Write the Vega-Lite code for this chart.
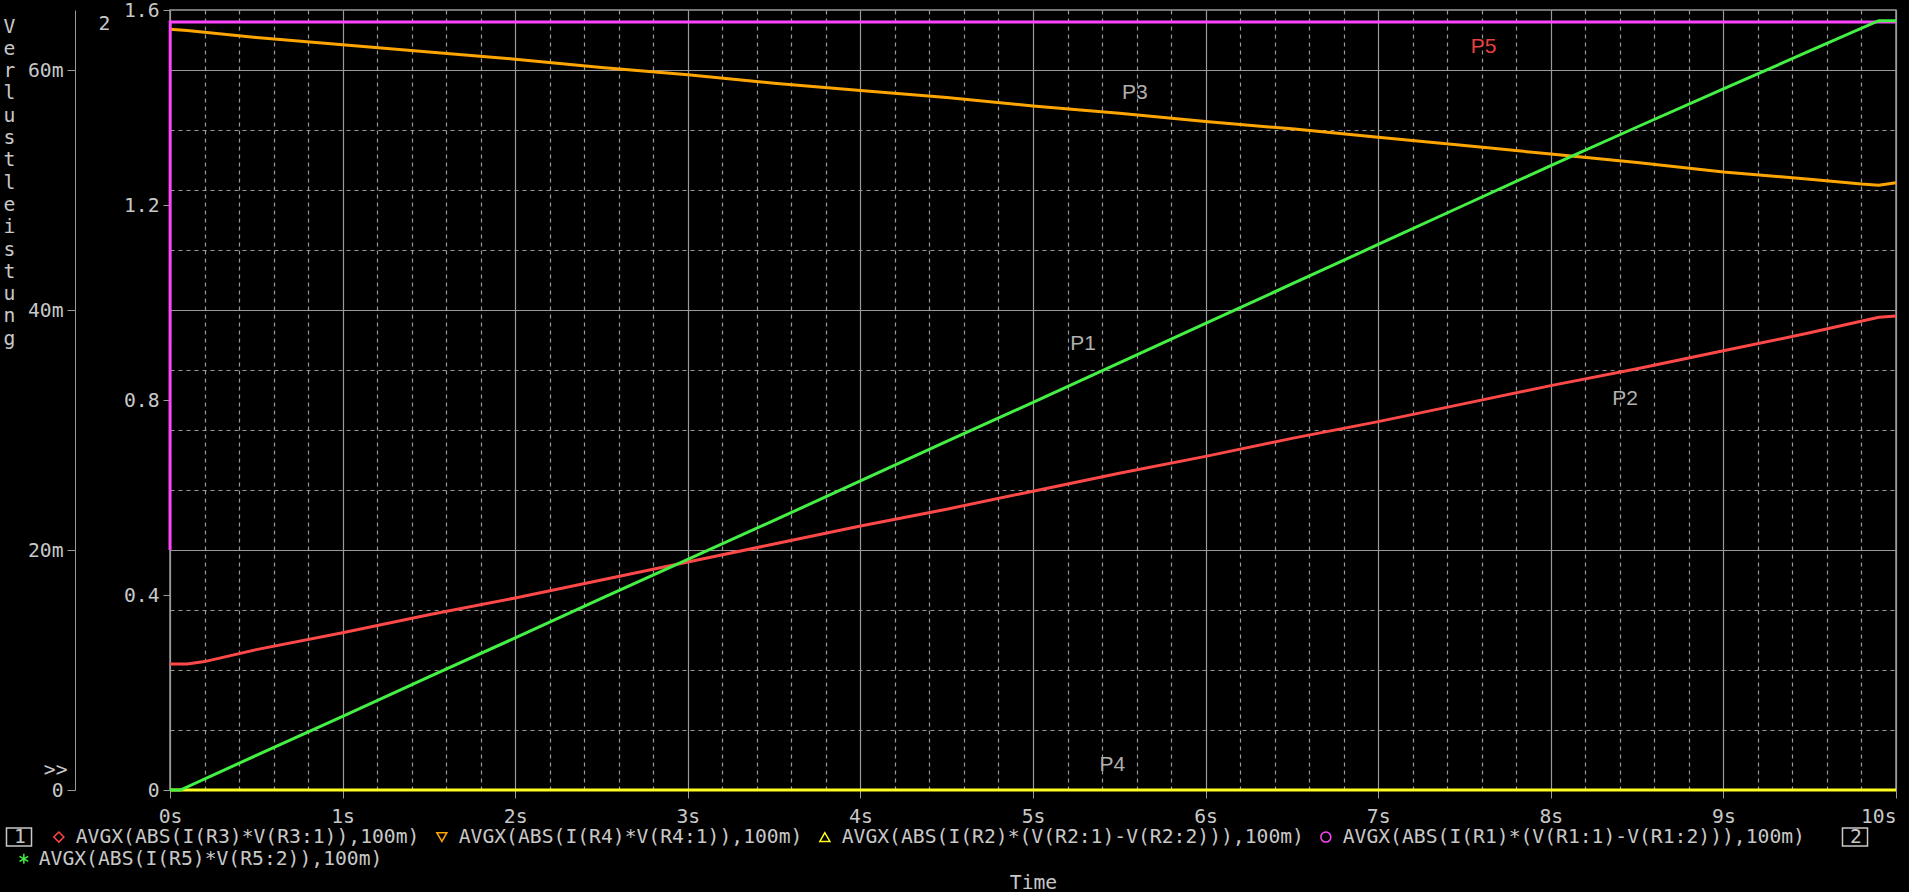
{
  "$schema": "https://vega.github.io/schema/vega-lite/v6.json",
  "autosize": {"type": "none"},
  "padding": {"left": 170, "top": 10, "right": 13, "bottom": 102},
  "width": 1726,
  "height": 780,
  "background": "black",
  "config": {
    "view": {"stroke": "#9a9a9a", "strokeWidth": 1.5},
    "axis": {
      "labelFont": "DejaVu Sans Mono", "labelFontSize": 19.7, "labelColor": "#c8c8c8",
      "titleFont": "DejaVu Sans Mono", "titleFontSize": 19.7, "titleColor": "#c8c8c8", "titleFontWeight": "normal",
      "domainColor": "#9a9a9a", "tickColor": "#9a9a9a", "gridColor": "#9a9a9a", "gridWidth": 1.2,
      "labelOverlap": false, "labelFlush": false
    },
    "legend": {
      "labelFont": "DejaVu Sans Mono", "labelFontSize": 19.7, "labelColor": "#c8c8c8", "labelLimit": 1000,
      "padding": 0, "orient": "none", "direction": "horizontal", "title": null
    }
  },
  "datasets": {
    "axis1": [
      {"t": 0, "w": 0.0105, "s": "AVGX(ABS(I(R3)*V(R3:1)),100m)"},
      {"t": 0.1, "w": 0.0105, "s": "AVGX(ABS(I(R3)*V(R3:1)),100m)"},
      {"t": 0.2, "w": 0.0107, "s": "AVGX(ABS(I(R3)*V(R3:1)),100m)"},
      {"t": 0.5, "w": 0.0117, "s": "AVGX(ABS(I(R3)*V(R3:1)),100m)"},
      {"t": 1, "w": 0.0131, "s": "AVGX(ABS(I(R3)*V(R3:1)),100m)"},
      {"t": 1.5, "w": 0.0146, "s": "AVGX(ABS(I(R3)*V(R3:1)),100m)"},
      {"t": 2, "w": 0.016, "s": "AVGX(ABS(I(R3)*V(R3:1)),100m)"},
      {"t": 2.5, "w": 0.0175, "s": "AVGX(ABS(I(R3)*V(R3:1)),100m)"},
      {"t": 3, "w": 0.019, "s": "AVGX(ABS(I(R3)*V(R3:1)),100m)"},
      {"t": 3.5, "w": 0.0205, "s": "AVGX(ABS(I(R3)*V(R3:1)),100m)"},
      {"t": 4, "w": 0.022, "s": "AVGX(ABS(I(R3)*V(R3:1)),100m)"},
      {"t": 4.5, "w": 0.0234, "s": "AVGX(ABS(I(R3)*V(R3:1)),100m)"},
      {"t": 5, "w": 0.0249, "s": "AVGX(ABS(I(R3)*V(R3:1)),100m)"},
      {"t": 5.5, "w": 0.0264, "s": "AVGX(ABS(I(R3)*V(R3:1)),100m)"},
      {"t": 6, "w": 0.0278, "s": "AVGX(ABS(I(R3)*V(R3:1)),100m)"},
      {"t": 6.5, "w": 0.0293, "s": "AVGX(ABS(I(R3)*V(R3:1)),100m)"},
      {"t": 7, "w": 0.0307, "s": "AVGX(ABS(I(R3)*V(R3:1)),100m)"},
      {"t": 7.5, "w": 0.0322, "s": "AVGX(ABS(I(R3)*V(R3:1)),100m)"},
      {"t": 8, "w": 0.0337, "s": "AVGX(ABS(I(R3)*V(R3:1)),100m)"},
      {"t": 8.5, "w": 0.0351, "s": "AVGX(ABS(I(R3)*V(R3:1)),100m)"},
      {"t": 9, "w": 0.0366, "s": "AVGX(ABS(I(R3)*V(R3:1)),100m)"},
      {"t": 9.5, "w": 0.0381, "s": "AVGX(ABS(I(R3)*V(R3:1)),100m)"},
      {"t": 9.9, "w": 0.0394, "s": "AVGX(ABS(I(R3)*V(R3:1)),100m)"},
      {"t": 10, "w": 0.0395, "s": "AVGX(ABS(I(R3)*V(R3:1)),100m)"},
      {"t": 0, "w": 0.0634, "s": "AVGX(ABS(I(R4)*V(R4:1)),100m)"},
      {"t": 0.1, "w": 0.0633, "s": "AVGX(ABS(I(R4)*V(R4:1)),100m)"},
      {"t": 0.5, "w": 0.0627, "s": "AVGX(ABS(I(R4)*V(R4:1)),100m)"},
      {"t": 1, "w": 0.0621, "s": "AVGX(ABS(I(R4)*V(R4:1)),100m)"},
      {"t": 1.5, "w": 0.0615, "s": "AVGX(ABS(I(R4)*V(R4:1)),100m)"},
      {"t": 2, "w": 0.0609, "s": "AVGX(ABS(I(R4)*V(R4:1)),100m)"},
      {"t": 2.5, "w": 0.0602, "s": "AVGX(ABS(I(R4)*V(R4:1)),100m)"},
      {"t": 3, "w": 0.0596, "s": "AVGX(ABS(I(R4)*V(R4:1)),100m)"},
      {"t": 3.5, "w": 0.0589, "s": "AVGX(ABS(I(R4)*V(R4:1)),100m)"},
      {"t": 4, "w": 0.0583, "s": "AVGX(ABS(I(R4)*V(R4:1)),100m)"},
      {"t": 4.5, "w": 0.0577, "s": "AVGX(ABS(I(R4)*V(R4:1)),100m)"},
      {"t": 5, "w": 0.057, "s": "AVGX(ABS(I(R4)*V(R4:1)),100m)"},
      {"t": 5.5, "w": 0.0564, "s": "AVGX(ABS(I(R4)*V(R4:1)),100m)"},
      {"t": 6, "w": 0.0557, "s": "AVGX(ABS(I(R4)*V(R4:1)),100m)"},
      {"t": 6.5, "w": 0.0551, "s": "AVGX(ABS(I(R4)*V(R4:1)),100m)"},
      {"t": 7, "w": 0.0544, "s": "AVGX(ABS(I(R4)*V(R4:1)),100m)"},
      {"t": 7.5, "w": 0.0537, "s": "AVGX(ABS(I(R4)*V(R4:1)),100m)"},
      {"t": 8, "w": 0.053, "s": "AVGX(ABS(I(R4)*V(R4:1)),100m)"},
      {"t": 8.5, "w": 0.0523, "s": "AVGX(ABS(I(R4)*V(R4:1)),100m)"},
      {"t": 9, "w": 0.0515, "s": "AVGX(ABS(I(R4)*V(R4:1)),100m)"},
      {"t": 9.5, "w": 0.0509, "s": "AVGX(ABS(I(R4)*V(R4:1)),100m)"},
      {"t": 9.8, "w": 0.0505, "s": "AVGX(ABS(I(R4)*V(R4:1)),100m)"},
      {"t": 9.9, "w": 0.0504, "s": "AVGX(ABS(I(R4)*V(R4:1)),100m)"},
      {"t": 10, "w": 0.0506, "s": "AVGX(ABS(I(R4)*V(R4:1)),100m)"},
      {"t": 0, "w": 0, "s": "AVGX(ABS(I(R2)*(V(R2:1)-V(R2:2))),100m)"},
      {"t": 5, "w": 0, "s": "AVGX(ABS(I(R2)*(V(R2:1)-V(R2:2))),100m)"},
      {"t": 10, "w": 0, "s": "AVGX(ABS(I(R2)*(V(R2:1)-V(R2:2))),100m)"},
      {"t": 0, "w": 0.02, "s": "AVGX(ABS(I(R1)*(V(R1:1)-V(R1:2))),100m)"},
      {"t": 0.001, "w": 0.064, "s": "AVGX(ABS(I(R1)*(V(R1:1)-V(R1:2))),100m)"},
      {"t": 5, "w": 0.064, "s": "AVGX(ABS(I(R1)*(V(R1:1)-V(R1:2))),100m)"},
      {"t": 10, "w": 0.064, "s": "AVGX(ABS(I(R1)*(V(R1:1)-V(R1:2))),100m)"}
    ],
    "axis2": [
      {"t": 0, "w": 0, "s": "AVGX(ABS(I(R5)*V(R5:2)),100m)"},
      {"t": 0.06, "w": 0, "s": "AVGX(ABS(I(R5)*V(R5:2)),100m)"},
      {"t": 0.5, "w": 0.071, "s": "AVGX(ABS(I(R5)*V(R5:2)),100m)"},
      {"t": 1, "w": 0.151, "s": "AVGX(ABS(I(R5)*V(R5:2)),100m)"},
      {"t": 1.5, "w": 0.232, "s": "AVGX(ABS(I(R5)*V(R5:2)),100m)"},
      {"t": 2, "w": 0.312, "s": "AVGX(ABS(I(R5)*V(R5:2)),100m)"},
      {"t": 2.5, "w": 0.393, "s": "AVGX(ABS(I(R5)*V(R5:2)),100m)"},
      {"t": 3, "w": 0.473, "s": "AVGX(ABS(I(R5)*V(R5:2)),100m)"},
      {"t": 3.5, "w": 0.553, "s": "AVGX(ABS(I(R5)*V(R5:2)),100m)"},
      {"t": 4, "w": 0.634, "s": "AVGX(ABS(I(R5)*V(R5:2)),100m)"},
      {"t": 4.5, "w": 0.715, "s": "AVGX(ABS(I(R5)*V(R5:2)),100m)"},
      {"t": 5, "w": 0.795, "s": "AVGX(ABS(I(R5)*V(R5:2)),100m)"},
      {"t": 5.5, "w": 0.876, "s": "AVGX(ABS(I(R5)*V(R5:2)),100m)"},
      {"t": 6, "w": 0.957, "s": "AVGX(ABS(I(R5)*V(R5:2)),100m)"},
      {"t": 6.5, "w": 1.038, "s": "AVGX(ABS(I(R5)*V(R5:2)),100m)"},
      {"t": 7, "w": 1.119, "s": "AVGX(ABS(I(R5)*V(R5:2)),100m)"},
      {"t": 7.5, "w": 1.2, "s": "AVGX(ABS(I(R5)*V(R5:2)),100m)"},
      {"t": 8, "w": 1.281, "s": "AVGX(ABS(I(R5)*V(R5:2)),100m)"},
      {"t": 8.5, "w": 1.36, "s": "AVGX(ABS(I(R5)*V(R5:2)),100m)"},
      {"t": 9, "w": 1.438, "s": "AVGX(ABS(I(R5)*V(R5:2)),100m)"},
      {"t": 9.5, "w": 1.516, "s": "AVGX(ABS(I(R5)*V(R5:2)),100m)"},
      {"t": 9.9, "w": 1.578, "s": "AVGX(ABS(I(R5)*V(R5:2)),100m)"},
      {"t": 10, "w": 1.578, "s": "AVGX(ABS(I(R5)*V(R5:2)),100m)"}
    ],
    "notes": [
      {"t": 5.29, "w": 0.0372, "lab": "P1"},
      {"t": 8.43, "w": 0.0326, "lab": "P2"},
      {"t": 5.59, "w": 0.0581, "lab": "P3"},
      {"t": 5.46, "w": 0.0021, "lab": "P4"},
      {"t": 7.61, "w": 0.0619, "lab": "P5"}
    ],
    "box1": [{"k": "1"}],
    "box2": [{"k": "2"}]
  },
  "encoding": {
    "x": {
      "field": "t", "type": "quantitative",
      "scale": {"domain": [0, 10], "nice": false, "zero": false},
      "axis": {
        "values": [0,0.2,0.4,0.6,0.8,1,1.2,1.4,1.6,1.8,2,2.2,2.4,2.6,2.8,3,3.2,3.4,3.6,3.8,4,4.2,4.4,4.6,4.8,5,5.2,5.4,5.6,5.8,6,6.2,6.4,6.6,6.8,7,7.2,7.4,7.6,7.8,8,8.2,8.4,8.6,8.8,9,9.2,9.4,9.6,9.8,10],
        "labelExpr": "datum.value % 1 === 0 ? datum.value + 's' : ''",
        "labelAlign": {"condition": {"test": "datum.value === 10", "value": "right"}, "value": "center"},
        "labelOverlap": false,
        "labelFlush": false,
        "grid": true,
        "gridDash": {"condition": {"test": "datum.value % 1 !== 0", "value": [4, 4]}, "value": []},
        "tickSize": 8,
        "tickOpacity": {"condition": {"test": "datum.value % 1 !== 0", "value": 0}, "value": 1},
        "domain": false,
        "labelPadding": 8,
        "title": "Time",
        "titleY": 92,
        "titleBaseline": "middle"
      }
    }
  },
  "layer": [
    {
      "encoding": {
        "y": {
          "field": "w", "type": "quantitative",
          "scale": {"domain": [0, 0.065], "nice": false, "zero": false},
          "axis": {
            "orient": "left",
            "offset": 95,
            "values": [0,0.00175,0.005,0.01,0.015,0.02,0.025,0.03,0.035,0.04,0.045,0.05,0.055,0.06],
            "labelExpr": "datum.value === 0.00175 ? '>>' : (round(datum.value*1000) % 20 === 0 ? (datum.value === 0 ? '0' : round(datum.value*1000) + 'm') : '')",
            "labelOverlap": false,
            "labelFlush": false,
            "labelPadding": {"condition": {"test": "datum.value === 0.00175", "value": 0}, "value": 4},
            "grid": true,
            "gridDash": {"condition": {"test": "round(datum.value*1000) % 20 !== 0", "value": [4, 4]}, "value": []},
            "gridOpacity": {"condition": {"test": "datum.value === 0.00175", "value": 0}, "value": 1},
            "tickOpacity": {"condition": {"test": "round(datum.value*1000) % 20 !== 0", "value": 0}, "value": 1},
            "tickSize": 8,
            "title": ["V","e","r","l","u","s","t","l","e","i","s","t","u","n","g"],
            "titleAngle": 0,
            "titleX": -66,
            "titleY": 6,
            "titleAlign": "center",
            "titleBaseline": "top",
            "titleLineHeight": 22.3
          }
        }
      },
      "layer": [
        {
          "data": {"name": "axis1"},
          "mark": {"type": "line", "strokeWidth": 3},
          "encoding": {
            "color": {
              "field": "s", "type": "nominal",
              "scale": {
                "domain": ["AVGX(ABS(I(R3)*V(R3:1)),100m)", "AVGX(ABS(I(R4)*V(R4:1)),100m)", "AVGX(ABS(I(R2)*(V(R2:1)-V(R2:2))),100m)", "AVGX(ABS(I(R1)*(V(R1:1)-V(R1:2))),100m)"],
                "range": ["#ff4848", "#ffa500", "#ffff20", "#ff44ff"]
              },
              "legend": {
                "legendX": -121,
                "legendY": 817,
                "symbolSize": 100,
                "symbolStrokeWidth": 1.5,
                "labelOffset": 7,
                "columnPadding": 12,
                "encode": {
                  "symbols": {
                    "update": {
                      "shape": {"signal": "datum.value === 'AVGX(ABS(I(R3)*V(R3:1)),100m)' ? 'diamond' : datum.value === 'AVGX(ABS(I(R4)*V(R4:1)),100m)' ? 'triangle-down' : datum.value === 'AVGX(ABS(I(R2)*(V(R2:1)-V(R2:2))),100m)' ? 'triangle-up' : 'circle'"},
                      "fill": {"value": "transparent"}
                    }
                  }
                }
              }
            }
          }
        },
        {
          "data": {"name": "notes"},
          "mark": {"type": "text", "font": "Liberation Sans", "fontSize": 21, "align": "center", "baseline": "middle"},
          "encoding": {
            "text": {"field": "lab", "type": "nominal"},
            "color": {"condition": {"test": "datum.lab === 'P5'", "value": "#e84040"}, "value": "#b0b0b0"}
          }
        }
      ]
    },
    {
      "data": {"name": "axis2"},
      "mark": {"type": "line", "strokeWidth": 3},
      "encoding": {
        "y": {
          "field": "w", "type": "quantitative",
          "scale": {"domain": [0, 1.6], "nice": false, "zero": false},
          "axis": {
            "orient": "left",
            "offset": 0,
            "values": [0, 0.4, 0.8, 1.2, 1.6],
            "labelExpr": "datum.value === 0 ? '0' : format(datum.value, '.1f')",
            "labelOverlap": false,
            "labelFlush": false,
            "grid": false,
            "tickSize": 7,
            "labelPadding": 4,
            "title": "2",
            "titleAngle": 0,
            "titleX": -66,
            "titleY": 13,
            "titleAlign": "center",
            "titleBaseline": "middle"
          }
        },
        "color": {
          "field": "s", "type": "nominal",
          "scale": {"range": ["#44f044"]},
          "legend": {
            "legendX": -156,
            "legendY": 839,
            "symbolType": "M0,-1L0,1M-0.87,-0.5L0.87,0.5M-0.87,0.5L0.87,-0.5",
            "symbolSize": 100,
            "symbolStrokeWidth": 1.5,
            "labelOffset": 5
          }
        }
      }
    },
    {
      "data": {"name": "box1"},
      "mark": {"type": "line"},
      "encoding": {
        "color": {
          "field": "k", "type": "nominal",
          "scale": {"range": ["#c8c8c8"]},
          "legend": {
            "legendX": -161,
            "legendY": 817,
            "symbolType": "M-1.39,-1L1.39,-1L1.39,1L-1.39,1Z",
            "symbolSize": 324,
            "symbolFillColor": "transparent",
            "symbolStrokeWidth": 1.5,
            "labelOffset": -15
          }
        }
      }
    },
    {
      "data": {"name": "box2"},
      "mark": {"type": "line"},
      "encoding": {
        "color": {
          "field": "k", "type": "nominal",
          "scale": {"range": ["#c8c8c8"]},
          "legend": {
            "legendX": 1675,
            "legendY": 817,
            "symbolType": "M-1.39,-1L1.39,-1L1.39,1L-1.39,1Z",
            "symbolSize": 324,
            "symbolFillColor": "transparent",
            "symbolStrokeWidth": 1.5,
            "labelOffset": -15
          }
        }
      }
    }
  ],
  "resolve": {
    "scale": {"y": "independent", "color": "independent"},
    "axis": {"y": "independent"},
    "legend": {"color": "independent"}
  }
}
